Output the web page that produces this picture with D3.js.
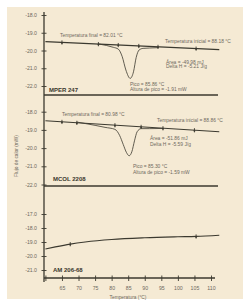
<!DOCTYPE html>
<html>
<head>
<meta charset="utf-8">
<script src="https://cdn.jsdelivr.net/npm/d3@7"></script>
<style>
  body { margin: 0; background: #ffffff; }
  svg { display: block; font-family: "Liberation Sans", Arial, sans-serif; }
</style>
</head>
<body>
<svg id="chart" width="243" height="304"></svg>
<script>
// data (temperature in °C, heat flow in mW)
var xTicks = [60, 65, 70, 75, 80, 85, 90, 95, 100, 105, 110];
var xTickLabels = ["", "65", "70", "75", "80", "85", "90", "95", "100", "105", "110"];
var yTicksTop = [-18, -19, -20, -21, -22];
var yTicksBottom = [-17, -18, -19, -20, -21];

var sampleNames = ["MPER 247", "MCOL 2208", "AM 206-68"];

// straight baselines [start, end]
var baseMPER = [[60, -19.5], [112.5, -19.95]];
var baseMCOL = [[60, -18.5], [112.5, -19.1]];

var curveMPER = [[76, -19.63], [78.5, -19.72], [80.5, -19.82], [82, -19.92], [83.2, -20.35],
                 [84.3, -21.1], [85.6, -21.57], [86.6, -21.2], [87.4, -20.4], [88.3, -19.97],
                 [89.5, -19.88], [91.5, -19.86], [94, -19.84]];
var curveMCOL = [[69.5, -18.57], [72, -18.65], [75, -18.75], [78, -18.86], [81, -18.97],
                 [82.4, -19.3], [83.5, -19.8], [84.5, -20.25], [85.3, -20.42], [86.1, -20.2],
                 [86.9, -19.6], [87.7, -19.1], [88.9, -18.93], [91.5, -18.93], [95.5, -18.92]];
var curveAM = [[60, -19.5], [63, -19.35], [67.5, -19.15], [72, -19.0], [80, -18.82],
               [90, -18.7], [100, -18.63], [105.5, -18.6], [112.5, -18.52]];

var markersMPER = [65, 76, 82, 88.2, 94, 105.5];
var markersMCOL = [65, 69.5, 81, 88.9, 95.5, 105];
var markersAM = [67.5, 105.5];

var notesMPER = ["Temperatura final = 82.01 °C", "Temperatura inicial = 88.18 °C",
                 "Área = -49.98 mJ", "Delta H = -5.21 J/g",
                 "Pico = 85.86 °C", "Altura de pico = -1.91 mW"];
var notesMCOL = ["Temperatura final = 80.98 °C", "Temperatura inicial = 88.86 °C",
                 "Área = -51.86 mJ", "Delta H = -5.59 J/g",
                 "Pico = 85.30 °C", "Altura de pico = -1.59 mW"];

var svg = d3.select("#chart");
var lineColor = "#3b392f";
var textColor = "#6e695d";
var axisX = 44;

svg.append("rect").attr("x", 7).attr("y", 7).attr("width", 236).attr("height", 292)
   .attr("fill", "#f5ead4");

var xScale = d3.scaleLinear().domain([60, 110]).range([45.4, 211]);

var panels = [
    { y: d3.scaleLinear().domain([-18, -22]).range([15, 86]), ticks: yTicksTop, sep: 95,
      base: baseMPER, curve: curveMPER, markers: markersMPER, markOn: "base",
      notes: notesMPER, noteXY: [[60, 37], [165, 43], [166, 63.5], [166, 68], [130, 86], [130, 90.8]],
      nameXY: [49, 92] },
    { y: d3.scaleLinear().domain([-18, -22]).range([111.7, 184.5]), ticks: yTicksTop, sep: 186,
      base: baseMCOL, curve: curveMCOL, markers: markersMCOL, markOn: "base",
      notes: notesMCOL, noteXY: [[62, 116], [157, 122], [150, 140], [150, 146], [133, 168], [133, 174]],
      nameXY: [53, 181] },
    { y: d3.scaleLinear().domain([-17, -21]).range([214, 270]), ticks: yTicksBottom, sep: null,
      base: null, curve: curveAM, markers: markersAM, markOn: "curve",
      notes: [], noteXY: [], nameXY: [53, 272] }
];

var line = function(yScale) {
    return d3.line()
        .x(function(d) { return xScale(d[0]); })
        .y(function(d) { return yScale(d[1]); })
        .curve(d3.curveMonotoneX);
};

// continuous y axis line
svg.append("line").attr("x1", axisX).attr("x2", axisX).attr("y1", 12).attr("y2", 282)
   .attr("stroke", lineColor).attr("stroke-width", 1.3);

panels.forEach(function(p, i) {
    var g = svg.append("g");

    var yAxis = g.append("g").attr("transform", "translate(" + axisX + ",0)")
        .call(d3.axisLeft(p.y).tickValues(p.ticks).tickSize(3).tickPadding(4)
              .tickFormat(function(d) { return d.toFixed(1); }));
    yAxis.select(".domain").remove();
    yAxis.selectAll(".tick line").attr("x1", 2.5).attr("x2", -2.5)
         .attr("stroke", lineColor).attr("stroke-width", 0.9);
    yAxis.selectAll(".tick text").attr("fill", textColor).style("font-size", "5.2px");

    if (p.sep !== null) {
        g.append("line").attr("x1", axisX).attr("x2", 218).attr("y1", p.sep).attr("y2", p.sep)
         .attr("stroke", lineColor).attr("stroke-width", 1.4);
    }

    var interpBase = null;
    if (p.base) {
        g.append("path").datum(p.base).attr("d", line(p.y)).attr("fill", "none")
         .attr("stroke", lineColor).attr("stroke-width", 1.1);
        interpBase = d3.scaleLinear().domain([p.base[0][0], p.base[1][0]])
                       .range([p.base[0][1], p.base[1][1]]);
    }

    g.append("path").datum(p.curve).attr("d", line(p.y)).attr("fill", "none")
     .attr("stroke", lineColor).attr("stroke-width", p.base ? 0.8 : 1.1);

    var curveInterp = d3.scaleLinear().domain(p.curve.map(function(d) { return d[0]; }))
                        .range(p.curve.map(function(d) { return d[1]; }));

    p.markers.forEach(function(t) {
        var v = p.markOn === "base" ? interpBase(t) : curveInterp(t);
        var mx = xScale(t), my = p.y(v);
        g.append("line").attr("x1", mx).attr("x2", mx).attr("y1", my - 2).attr("y2", my + 2.2)
         .attr("stroke", lineColor).attr("stroke-width", 0.9);
        g.append("circle").attr("cx", mx).attr("cy", my + 0.5).attr("r", 0.9).attr("fill", lineColor);
    });

    p.notes.forEach(function(txt, j) {
        g.append("text").attr("x", p.noteXY[j][0]).attr("y", p.noteXY[j][1])
         .attr("fill", textColor).style("font-size", "4.9px").text(txt);
    });

    g.append("text").attr("x", p.nameXY[0]).attr("y", p.nameXY[1])
     .attr("fill", "#3a372d").style("font-size", "6px").style("font-weight", "bold")
     .text(sampleNames[i]);
});

// x axis of the bottom panel
var xAxis = svg.append("g").attr("transform", "translate(0,278)")
    .call(d3.axisBottom(xScale).tickValues(xTicks).tickSize(3).tickPadding(5)
          .tickFormat(function(d, i) { return xTickLabels[i]; }));
xAxis.select(".domain").remove();
xAxis.append("line").attr("x1", axisX).attr("x2", 215).attr("y1", 0).attr("y2", 0)
     .attr("stroke", lineColor).attr("stroke-width", 1.4);
xAxis.selectAll(".tick line").attr("y1", -2.5).attr("y2", 3)
     .attr("stroke", lineColor).attr("stroke-width", 0.9);
xAxis.selectAll(".tick text").attr("fill", textColor).style("font-size", "5.2px");

svg.append("text").attr("x", 128).attr("y", 298.5).attr("text-anchor", "middle")
   .attr("fill", textColor).style("font-size", "4.8px").text("Temperatura (°C)");

svg.append("text").attr("transform", "translate(18,156) rotate(-90)").attr("text-anchor", "middle")
   .attr("fill", textColor).style("font-size", "4.8px").text("Flujo de calor (mW)");
</script>
</body>
</html>
